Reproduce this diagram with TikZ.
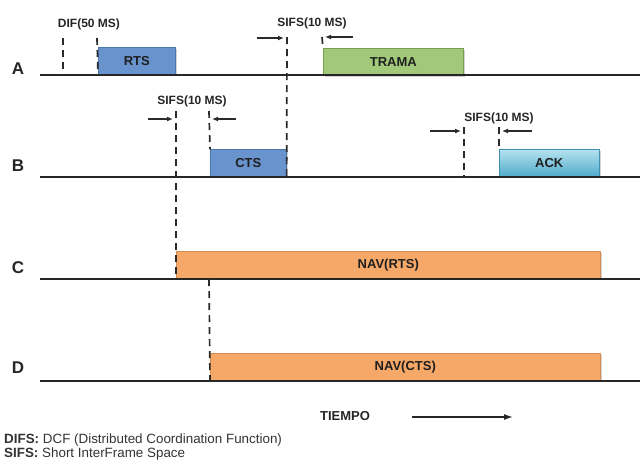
\documentclass[tikz,border=0pt]{standalone}
\usepackage{fontspec}
\setmainfont{Liberation Sans}
\usetikzlibrary{arrows.meta,shadows}

\definecolor{rtsblue}{HTML}{6893CD}
\definecolor{rtsedge}{HTML}{4C77AE}
\definecolor{tramagreen}{HTML}{A2C97A}
\definecolor{tramaedge}{HTML}{77A04E}
\definecolor{acktop}{HTML}{B4E2EE}
\definecolor{ackbot}{HTML}{4FAACB}
\definecolor{ackedge}{HTML}{3E8FB0}
\definecolor{navorange}{HTML}{F6A868}
\definecolor{navedge}{HTML}{D98C50}
\definecolor{markgray}{HTML}{2A2A2A}

\tikzset{
  frame/.style={draw, line width=0.6pt, anchor=south west, inner sep=0pt,
    minimum height=27pt, font=\fontsize{13}{13}\selectfont\bfseries,
    text=black!88, drop shadow={shadow xshift=1.2pt, shadow yshift=-1.2pt, opacity=0.35}},
  bluebox/.style={frame, fill=rtsblue, draw=rtsedge},
  greenbox/.style={frame, fill=tramagreen, draw=tramaedge},
  ackbox/.style={frame, top color=acktop, bottom color=ackbot, draw=ackedge},
  navbox/.style={frame, fill=navorange, draw=navedge},
  timeline/.style={line width=1.3pt, black!85},
  marker/.style={line width=1.7pt, markgray, dash pattern=on 7pt off 5pt},
  gap/.style={line width=1.2pt, markgray, -{Latex[length=6pt,width=5pt]}},
  gaplabel/.style={font=\fontsize{12}{12}\selectfont\bfseries, text=black!85},
  station/.style={font=\fontsize{17}{17}\selectfont\bfseries, text=black!85},
  legend/.style={anchor=west, font=\fontsize{13.4}{13.4}\selectfont, text=black!80, inner sep=0pt},
}

\begin{document}
\begin{tikzpicture}[x=1pt, y=-1pt]
\useasboundingbox (0,0) rectangle (640,464);

% station labels
\node[station] (la) at (18,69) {A};
\node[station] (lb) at (18,166) {B};
\node[station] (lc) at (18,268) {C};
\node[station] (ld) at (18,368) {D};

% time lines
\coordinate (a0) at (40,75);  \coordinate (a1) at (640,75);
\coordinate (b0) at (40,177); \coordinate (b1) at (640,177);
\coordinate (c0) at (40,279); \coordinate (c1) at (640,279);
\coordinate (d0) at (40,381); \coordinate (d1) at (640,381);

% frames
\node[bluebox, minimum width=77pt] (rts) at (98,75) {RTS};
\node[greenbox, minimum width=140pt] (trama) at (323,76) {TRAMA};
\node[bluebox, minimum width=76pt] (cts) at (210,177) {CTS};
\node[ackbox, minimum width=100pt] (ack) at (499,177) {ACK};
\node[navbox, minimum width=424pt] (navrts) at (176,279) {NAV(RTS)};
\node[navbox, minimum width=390pt] (navcts) at (210,381) {NAV(CTS)};

\draw[timeline] (a0) -- (a1);
\draw[timeline] (b0) -- (b1);
\draw[timeline] (c0) -- (c1);
\draw[timeline] (d0) -- (d1);

% DIFS before RTS
\node[gaplabel] (difl) at (89,24) {DIF(50 MS)};
\coordinate (dif1) at (63,38); \coordinate (dif1b) at (63,75);
\coordinate (dif2) at (97,38);
\draw[marker] (dif1) -- (dif1b);
\draw[marker] (dif2) -- (rts.south west);

% SIFS between CTS and TRAMA
\node[gaplabel] (sifa) at (312,23) {SIFS(10 MS)};
\coordinate (sa1) at (287,37);
\coordinate (sa2) at (322,37);
\coordinate (sa1in) at (257,38); \coordinate (sa1tip) at (284,38);
\coordinate (sa2in) at (353,37); \coordinate (sa2tip) at (325,37);
\draw[marker] (sa1) -- (cts.south east);
\draw[marker] (sa2) -- (trama.north west);
\draw[gap] (sa1in) -- (sa1tip);
\draw[gap] (sa2in) -- (sa2tip);

% SIFS between RTS and CTS
\node[gaplabel] (sifb) at (192,101) {SIFS(10 MS)};
\coordinate (sb1) at (176,111);
\coordinate (sb2) at (209,111);
\coordinate (sb2c) at (209,279);
\coordinate (sb1in) at (148,119); \coordinate (sb1tip) at (173,119);
\coordinate (sb2in) at (236,119); \coordinate (sb2tip) at (212,119);
\draw[marker] (sb1) -- (navrts.south west);
\draw[marker] (sb2) -- (cts.north west);
\draw[marker] (sb2c) -- (navcts.south west);
\draw[gap] (sb1in) -- (sb1tip);
\draw[gap] (sb2in) -- (sb2tip);

% SIFS between TRAMA and ACK
\node[gaplabel] (sifc) at (499,118) {SIFS(10 MS)};
\coordinate (sc1) at (464,127); \coordinate (sc1b) at (464,177);
\coordinate (sc2) at (499,127);
\coordinate (sc1in) at (430,131); \coordinate (sc1tip) at (461,131);
\coordinate (sc2in) at (532,131); \coordinate (sc2tip) at (502,131);
\draw[marker] (sc1) -- (sc1b);
\draw[marker] (sc2) -- (ack.north west);
\draw[gap] (sc1in) -- (sc1tip);
\draw[gap] (sc2in) -- (sc2tip);

% time axis
\node[font=\fontsize{13}{13}\selectfont\bfseries, text=black!85] (tiempo) at (345,416) {TIEMPO};
\coordinate (t0) at (412,417); \coordinate (t1) at (513,417);
\draw[line width=1.4pt, black!85, -{Latex[length=9pt,width=6pt]}] (t0) -- (t1);

% legend
\node[legend] (leg1) at (4,440) {\textbf{DIFS:} DCF (Distributed Coordination Function)};
\node[legend] (leg2) at (4,454) {\textbf{SIFS:} Short InterFrame Space};
\end{tikzpicture}
\end{document}
